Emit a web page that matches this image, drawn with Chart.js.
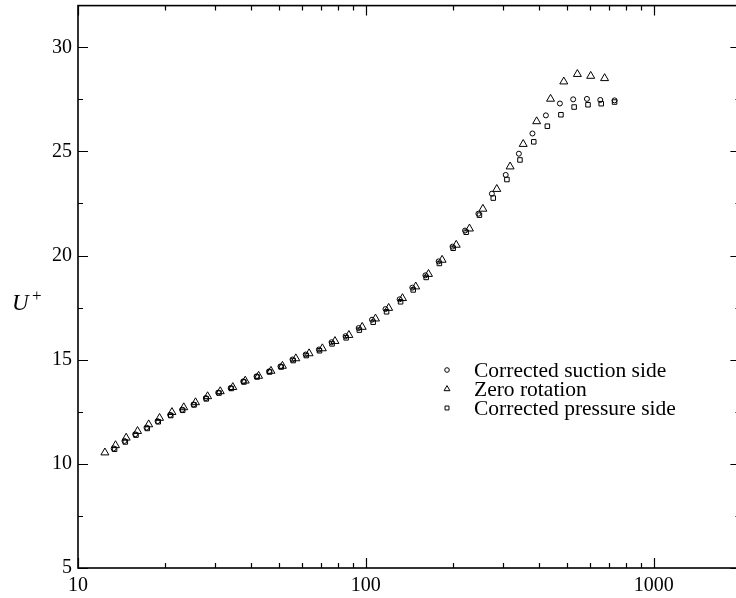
<!DOCTYPE html>
<html>
<head>
<meta charset="utf-8">
<title>Velocity profile U+</title>
<script src="https://cdn.jsdelivr.net/npm/chart.js@4.4.1/dist/chart.umd.min.js"></script>
<style>
  html, body { margin: 0; padding: 0; background: #fff; overflow: hidden; }
  canvas { display: block; }
</style>
</head>
<body>
<canvas id="profile" width="746" height="598" style="width:746px;height:598px"></canvas>
<script>
// ---- data: y+ (log axis) against U+ ----
const seriesLabels = ['Corrected suction side', 'Zero rotation', 'Corrected pressure side'];

const suctionYPlus = [13.3, 14.5, 15.8, 17.3, 18.9, 20.9, 23.0, 25.2, 27.8, 30.7, 33.9, 37.5, 41.7, 46.1, 50.5,
  55.6, 61.8, 68.7, 76.0, 85.0, 94.4, 105, 117, 131, 145, 161, 179, 200, 221, 246, 274, 306, 340, 379, 422,
  472, 525, 586, 652, 731];
const suctionU = [10.74, 11.10, 11.42, 11.74, 12.05, 12.35, 12.60, 12.85, 13.16, 13.42, 13.64, 13.96, 14.20, 14.44, 14.68,
  15.01, 15.25, 15.49, 15.84, 16.13, 16.52, 16.92, 17.43, 17.90, 18.46, 19.05, 19.72, 20.43, 21.20, 22.01, 22.97, 23.87, 24.89, 25.86, 26.73,
  27.30, 27.50, 27.52, 27.47, 27.45];

const zeroYPlus = [12.4, 13.5, 14.7, 16.1, 17.6, 19.2, 21.2, 23.3, 25.6, 28.2, 31.2, 34.5, 38.1, 42.4, 46.8,
  51.3, 57.1, 63.5, 70.6, 78.1, 87.3, 97.1, 108, 120, 134, 149, 165, 184, 206, 229, 255, 285, 317, 352,
  392, 438, 487, 543, 604, 675];
const zeroU = [10.54, 10.89, 11.25, 11.57, 11.89, 12.20, 12.48, 12.71, 12.95, 13.24, 13.48, 13.68, 13.99, 14.22, 14.46,
  14.70, 15.06, 15.30, 15.54, 15.89, 16.18, 16.57, 16.97, 17.48, 17.95, 18.51, 19.11, 19.79, 20.51, 21.29, 22.24, 23.19, 24.27, 25.35,
  26.44, 27.52, 28.35, 28.71, 28.62, 28.51];

const pressureYPlus = [13.4, 14.6, 15.9, 17.4, 19.0, 21.0, 23.1, 25.3, 27.9, 30.9, 34.1, 37.7, 41.9, 46.3, 50.8,
  55.9, 62.1, 69.0, 76.3, 85.4, 94.9, 106, 118, 132, 146, 162, 180, 201, 223, 248, 277, 309, 343, 383, 427,
  476, 529, 591, 657, 731];
const pressureU = [10.70, 11.05, 11.38, 11.70, 12.02, 12.32, 12.57, 12.83, 13.12, 13.40, 13.62, 13.93, 14.17, 14.41, 14.65,
  14.96, 15.20, 15.43, 15.76, 16.05, 16.42, 16.80, 17.30, 17.78, 18.35, 18.95, 19.62, 20.35, 21.12, 21.94, 22.76, 23.65, 24.59, 25.46, 26.21,
  26.76, 27.13, 27.24, 27.29, 27.37];

const xTicks = [10, 100, 1000];
const yTicks = [5, 10, 15, 20, 25, 30];

const SERIF = "'Liberation Serif', 'Times New Roman', serif";
const toPoints = (xs, ys) => xs.map((v, i) => ({ x: v, y: ys[i] }));

// frame, inward ticks on all four sides, axis title and legend
const figureDecor = {
  id: 'figureDecor',
  afterDraw(chart) {
    const { ctx, chartArea: a, scales: { x, y } } = chart;
    ctx.save();
    ctx.strokeStyle = '#000';
    ctx.lineWidth = 1.6;
    ctx.strokeRect(a.left, a.top, a.right - a.left, a.bottom - a.top);

    ctx.lineWidth = 1.2;
    ctx.beginPath();
    xTicks.forEach(d => {
      for (let m = 1; m <= 9; m++) {
        const v = d * m;
        if (v < x.min || v > x.max) continue;
        const px = Math.round(x.getPixelForValue(v)) + 0.5;
        const len = m === 1 ? 10 : 5;
        ctx.moveTo(px, a.bottom); ctx.lineTo(px, a.bottom - len);
        ctx.moveTo(px, a.top); ctx.lineTo(px, a.top + len);
      }
    });
    for (let v = y.min; v <= y.max; v += 2.5) {
      const py = Math.round(y.getPixelForValue(v)) + 0.5;
      const len = v % 5 === 0 ? 10 : 5;
      ctx.moveTo(a.left, py); ctx.lineTo(a.left + len, py);
      ctx.moveTo(a.right, py); ctx.lineTo(a.right - len, py);
    }
    ctx.stroke();

    // y axis title U+
    ctx.fillStyle = '#000';
    ctx.textBaseline = 'alphabetic';
    ctx.textAlign = 'left';
    ctx.font = 'italic 23px ' + SERIF;
    ctx.fillText('U', 12, 310);
    ctx.font = '17px ' + SERIF;
    ctx.fillText('+', 32, 301);

    // legend
    const rows = [370, 389, 408];
    const legendR = [2.3, 3.4, 2.8];
    ctx.font = '21.5px ' + SERIF;
    ctx.textBaseline = 'middle';
    chart.data.datasets.forEach((ds, i) => {
      ctx.strokeStyle = '#000';
      ctx.fillStyle = 'rgba(0,0,0,0)';
      ctx.lineWidth = 1;
      Chart.helpers.drawPoint(ctx, { pointStyle: ds.pointStyle, rotation: 0, radius: legendR[i], borderWidth: 1 }, 447, rows[i]);
      ctx.fillStyle = '#000';
      ctx.fillText(ds.label, 474, rows[i] + 1);
    });
    ctx.restore();
  }
};

const markerBase = { borderColor: '#000', backgroundColor: 'rgba(0,0,0,0)', borderWidth: 1, pointHoverRadius: 0 };

new Chart(document.getElementById('profile'), {
  type: 'scatter',
  data: {
    datasets: [
      { ...markerBase, label: seriesLabels[0], data: toPoints(suctionYPlus, suctionU), pointStyle: 'circle', pointRadius: 2.5 },
      { ...markerBase, label: seriesLabels[1], data: toPoints(zeroYPlus, zeroU), pointStyle: 'triangle', pointRadius: 4.6 },
      { ...markerBase, label: seriesLabels[2], data: toPoints(pressureYPlus, pressureU), pointStyle: 'rect', pointRadius: 3.2 }
    ]
  },
  options: {
    responsive: false, animation: false, events: [],
    layout: { padding: { top: 4, right: 3, left: 0, bottom: 0 } },
    plugins: { legend: { display: false }, tooltip: { enabled: false } },
    scales: {
      x: {
        type: 'logarithmic', min: 10, max: 2000,
        grid: { display: false, drawTicks: false }, border: { display: false },
        ticks: { color: '#000', font: { family: SERIF, size: 20 }, padding: 6, autoSkip: false, maxRotation: 0, callback: v => String(v) },
        afterBuildTicks: s => { s.ticks = xTicks.map(v => ({ value: v })); },
        afterFit: s => { s.height = 30; s.paddingLeft = 0; s.paddingRight = 0; }
      },
      y: {
        type: 'linear', min: 5, max: 32,
        grid: { display: false, drawTicks: false }, border: { display: false },
        ticks: { color: '#000', font: { family: SERIF, size: 20 }, padding: 6 },
        afterBuildTicks: s => { s.ticks = yTicks.map(v => ({ value: v })); },
        afterFit: s => { s.width = 78; s.paddingTop = 0; s.paddingBottom = 0; }
      }
    }
  },
  plugins: [figureDecor]
});
</script>
</body>
</html>
